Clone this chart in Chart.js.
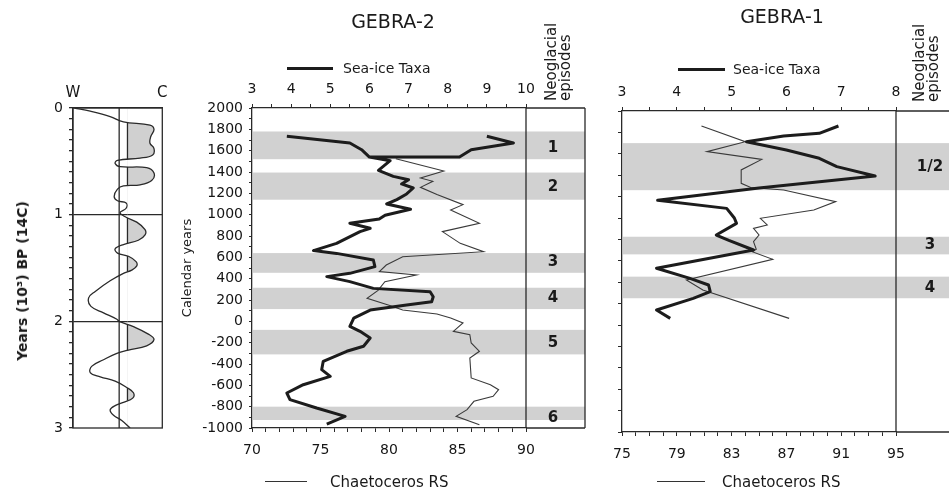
<!DOCTYPE html>
<html>
<head>
<meta charset="utf-8">
<script src="https://cdn.jsdelivr.net/npm/chart.js@4"></script>
<style>
  body { margin: 0; background: #fff; }
  #wrap { position: relative; width: 949px; height: 493px; overflow: hidden; font-family: "DejaVu Sans", sans-serif; color: #1a1a1a; }
  canvas { position: absolute; left: 0; top: 0; }
  .t { position: absolute; white-space: nowrap; z-index: 5; }
  .ln { position: absolute; z-index: 5; }
  .rot { transform-origin: 0 0; transform: rotate(-90deg); line-height: 14px; font-size: 15px; }
</style>
</head>
<body>
<div id="wrap">
  <canvas id="cLeft" width="949" height="493"></canvas>
  <canvas id="cMid" width="949" height="493"></canvas>
  <canvas id="cRight" width="949" height="493"></canvas>

  <div class="t" style="left:22px;top:281px;font-weight:bold;font-size:14px;transform:translate(-50%,-50%) rotate(-90deg);">Years (10³) BP (14C)</div>

  <div class="t" style="left:393px;top:10px;font-size:19px;transform:translateX(-50%);">GEBRA-2</div>
  <div class="ln" style="left:287px;top:67px;width:46px;height:3px;background:#1c1c1c;"></div>
  <div class="t" style="left:343px;top:60px;font-size:14px;">Sea-ice Taxa</div>
  <div class="t rot" style="left:544px;top:101px;">Neoglacial<br>episodes</div>
  <div class="ln" style="left:265px;top:481px;width:42px;height:1px;background:#333;"></div>
  <div class="t" style="left:330px;top:473px;font-size:15px;">Chaetoceros RS</div>

  <div class="t" style="left:782px;top:5px;font-size:19px;transform:translateX(-50%);">GEBRA-1</div>
  <div class="ln" style="left:678px;top:68px;width:47px;height:3px;background:#1c1c1c;"></div>
  <div class="t" style="left:733px;top:61px;font-size:14px;">Sea-ice Taxa</div>
  <div class="t rot" style="left:912px;top:102px;">Neoglacial<br>episodes</div>
  <div class="ln" style="left:657px;top:481px;width:48px;height:1px;background:#333;"></div>
  <div class="t" style="left:722px;top:473px;font-size:15px;">Chaetoceros RS</div>
</div>

<script>
// ---- left panel: W / C curve, 10^3 yr BP (14C)
const lwYears = [0,0.03,0.08,0.13,0.16,0.20,0.27,0.33,0.38,0.44,0.47,0.49,0.52,0.55,0.56,0.61,0.68,0.72,0.73,0.76,0.83,0.87,0.89,0.94,0.98,1.02,1.07,1.14,1.19,1.24,1.28,1.32,1.36,1.39,1.44,1.48,1.52,1.55,1.62,1.72,1.78,1.86,1.92,1.98,2.00,2.05,2.12,2.17,2.23,2.27,2.30,2.36,2.42,2.48,2.52,2.56,2.62,2.67,2.72,2.76,2.79,2.83,2.88,2.93,3.00];
const lwVals = [0.15,1.93,4.16,5.65,8.62,9.07,8.70,8.62,9.07,8.92,7.51,4.98,4.72,5.28,8.25,9.07,8.81,7.51,5.65,4.98,4.61,4.98,5.95,5.95,5.28,5.84,7.14,8.07,8.07,7.32,5.65,4.72,4.98,6.21,7.06,7.14,6.58,5.65,4.16,2.49,1.75,2.01,3.42,4.91,5.17,6.77,8.44,9.07,8.25,6.21,4.91,3.42,2.12,1.93,3.05,4.72,6.02,6.77,6.69,5.65,4.72,4.16,4.54,5.46,6.4];
const lwCentre = 5.17;
const lwShadeFrom = 6.1;

// ---- GEBRA-2
const g2IceYears = [1735,1672,1609,1540,1540,1609,1672,1735,null,1540,1506,1416,1359,1328,1288,1250,1194,1141,1100,1050,995,960,919,872,841,731,663,637,575,513,450,419,372,309,278,231,184,153,106,31,-47,-94,-156,-234,-281,-375,-453,-516,-594,-672,-734,-813,-891,-963];
const g2IceVals = [9.0,9.68,8.6,8.3,6.0,5.8,5.5,3.89,null,6.0,6.53,6.23,6.61,7.0,6.82,7.12,6.95,6.70,6.44,7.05,6.4,6.25,5.5,6.02,5.76,5.16,4.57,5.16,6.10,6.14,5.5,4.91,5.5,6.10,7.55,7.63,7.59,6.95,6.02,5.6,5.5,5.76,6.02,5.85,5.42,4.82,4.78,5.0,4.31,3.89,3.97,4.65,5.38,4.91];
const g2ChaetYears = [1525,1410,1344,1313,1256,1188,1094,1044,919,841,731,653,606,528,466,434,372,290,216,150,106,69,31,-16,-94,-125,-203,-281,-344,-531,-594,-641,-703,-750,-828,-891,-969];
const g2ChaetVals = [80.5,84.0,82.3,83.2,82.3,83.5,85.4,84.5,86.6,83.9,85.2,86.9,81.0,79.8,79.3,82.0,79.7,79.2,78.4,80.0,81.0,83.5,84.5,85.4,84.7,85.9,86.0,86.6,85.9,86.0,87.4,88.0,87.6,86.2,85.7,84.9,86.6];
const g2BandFrom = [1520,1140,455,115,-310,-925];
const g2BandTo = [1780,1395,640,315,-80,-800];
const g2Episodes = ['1','2','3','4','5','6'];
const g2EpisodeYears = [1625,1262,559,216,-206,-905];

// ---- GEBRA-1
const g1IceYears = [1860,1791,1766,1713,1636,1558,1480,1392,1280,1165,1090,1000,950,841,790,701,530,436,374,311,249,140,62];
const g1IceVals = [6.95,6.6,5.95,5.27,6.0,6.6,6.92,7.62,5.5,3.65,4.91,5.05,5.09,4.72,4.95,5.40,3.63,4.24,4.58,4.61,4.30,3.63,3.88];
const g1ChaetYears = [1860,1713,1620,1548,1449,1324,1285,1262,1153,1075,997,935,903,841,779,707,685,614,421,327,62];
const g1ChaetVals = [80.8,84.0,81.2,85.2,83.7,83.7,84.4,86.8,90.6,89.0,85.1,85.6,84.6,85.0,84.6,84.8,84.5,86.0,79.7,80.9,87.2];
const g1BandFrom = [1260,660,250];
const g1BandTo = [1700,825,452];
const g1Episodes = ['1/2','3','4'];
const g1EpisodeYears = [1477,748,343];

Chart.defaults.font.family = '"DejaVu Sans", sans-serif';
Chart.defaults.font.size = 14;
Chart.defaults.color = '#151515';
Chart.defaults.animation = false;
Chart.defaults.events = [];
Chart.defaults.plugins.legend.display = false;
Chart.defaults.plugins.tooltip.enabled = false;

const AX = '#2a2a2a';

function pts(ys, xs) {
  return ys.map((y, i) => ({ x: xs[i], y: y }));
}

function axisX(pos, min, max, step, labelFn, h, pad) {
  return {
    type: 'linear', position: pos, min: min, max: max,
    ticks: { stepSize: step, autoSkip: false, maxRotation: 0, minRotation: 0, padding: pad, callback: labelFn },
    grid: { drawOnChartArea: false, tickLength: 4, color: AX },
    border: { color: AX, width: 1.3 },
    afterFit(s) { s.height = h; }
  };
}

function panelPlugin(cfg) {
  return {
    id: 'panel',
    beforeDatasetsDraw(chart) {
      const { ctx, chartArea: a } = chart;
      const y = chart.scales.y;
      ctx.save();
      ctx.fillStyle = 'rgba(0,0,0,0.18)';
      cfg.bandFrom.forEach((from, i) => {
        const top = y.getPixelForValue(cfg.bandTo[i]);
        const bot = y.getPixelForValue(from);
        ctx.fillRect(a.left + 1, top, cfg.boxRight - a.left - 1, bot - top);
      });
      ctx.restore();
    },
    afterDraw(chart) {
      const { ctx, chartArea: a } = chart;
      const y = chart.scales.y;
      ctx.save();
      ctx.strokeStyle = AX;
      ctx.lineWidth = 1.3;
      ctx.beginPath();
      ctx.moveTo(a.right, a.top); ctx.lineTo(cfg.boxRight, a.top);
      ctx.moveTo(a.right, a.bottom); ctx.lineTo(cfg.boxRight, a.bottom);
      ctx.moveTo(a.right, a.top); ctx.lineTo(a.right, a.bottom);
      if (cfg.closed) { ctx.moveTo(cfg.boxRight, a.top); ctx.lineTo(cfg.boxRight, a.bottom); }
      ctx.stroke();
      ctx.fillStyle = '#1a1a1a';
      ctx.font = 'bold 15px "DejaVu Sans", sans-serif';
      ctx.textAlign = 'center';
      ctx.textBaseline = 'middle';
      cfg.labels.forEach((t, i) => ctx.fillText(t, cfg.labelX, y.getPixelForValue(cfg.labelYears[i])));
      ctx.restore();
    }
  };
}

// left panel decorations: shaded lobes right of threshold, centre line, box
const leftDecor = {
  id: 'leftDecor',
  beforeDatasetsDraw(chart) {
    const { ctx, chartArea: a } = chart;
    const meta = chart.getDatasetMeta(0);
    const line = meta.dataset;
    const p = meta.data;
    const tx = chart.scales.x.getPixelForValue(lwShadeFrom);
    ctx.save();
    ctx.beginPath();
    ctx.rect(tx, a.top, a.right - tx, a.bottom - a.top);
    ctx.clip();
    ctx.beginPath();
    if (typeof line.path === 'function') {
      line.path(ctx);
    } else {
      p.forEach((pt, i) => i ? ctx.lineTo(pt.x, pt.y) : ctx.moveTo(pt.x, pt.y));
    }
    ctx.lineTo(tx, p[p.length - 1].y);
    ctx.lineTo(tx, p[0].y);
    ctx.closePath();
    ctx.fillStyle = '#d0d0d0';
    ctx.fill();
    ctx.restore();

    ctx.save();
    ctx.strokeStyle = AX;
    ctx.lineWidth = 1.3;
    let startY = null;
    for (let i = 1; i < p.length; i++) {
      const p0 = p[i - 1], p1 = p[i];
      const in0 = p0.x > tx, in1 = p1.x > tx;
      if (in0 !== in1) {
        const cy = p0.y + (tx - p0.x) / (p1.x - p0.x) * (p1.y - p0.y);
        if (in1) { startY = cy; }
        else if (startY !== null) {
          ctx.beginPath(); ctx.moveTo(tx, startY); ctx.lineTo(tx, cy); ctx.stroke();
          startY = null;
        }
      }
    }
    ctx.restore();
  },
  afterDraw(chart) {
    const { ctx, chartArea: a } = chart;
    const cx = chart.scales.x.getPixelForValue(lwCentre);
    ctx.save();
    ctx.strokeStyle = AX;
    ctx.lineWidth = 1.3;
    ctx.strokeRect(a.left, a.top, a.right - a.left, a.bottom - a.top);
    ctx.beginPath();
    ctx.moveTo(cx, a.top); ctx.lineTo(cx, a.bottom);
    ctx.stroke();
    ctx.restore();
  }
};

// ---- left chart
new Chart(document.getElementById('cLeft'), {
  type: 'scatter',
  data: {
    datasets: [{
      data: pts(lwYears, lwVals),
      showLine: true, borderColor: '#2a2a2a', borderWidth: 1.3, pointRadius: 0, tension: 0.4
    }]
  },
  options: {
    responsive: false, devicePixelRatio: 1,
    layout: { padding: { left: 14, right: 786.7, top: 0, bottom: 65 } },
    scales: {
      x: {
        type: 'linear', position: 'top', min: 0, max: 10,
        afterBuildTicks(s) { s.ticks = [{ value: 0 }, { value: 10 }]; },
        ticks: { callback: v => (v === 0 ? 'W' : 'C'), padding: 6, maxRotation: 0, font: { size: 15 } },
        grid: { drawOnChartArea: false, drawTicks: false },
        border: { color: AX, width: 1.3 },
        afterFit(s) { s.height = 108; }
      },
      y: {
        type: 'linear', reverse: true, min: 0, max: 3,
        ticks: {
          stepSize: 0.1, autoSkip: false, padding: 6,
          callback: v => (Math.abs(v - Math.round(v)) < 1e-6 ? String(Math.round(v)) : '')
        },
        grid: {
          tickLength: 4, tickColor: AX,
          color: c => (c.tick && (c.tick.value === 1 || c.tick.value === 2) ? AX : 'rgba(0,0,0,0)'),
          lineWidth: 1.3
        },
        border: { color: AX, width: 1.3 },
        afterFit(s) { s.width = 59; }
      }
    }
  },
  plugins: [leftDecor]
});

// ---- GEBRA-2
new Chart(document.getElementById('cMid'), {
  type: 'scatter',
  data: {
    datasets: [
      { label: 'Sea-ice Taxa', data: pts(g2IceYears, g2IceVals), xAxisID: 'xTop', yAxisID: 'y',
        showLine: true, borderColor: '#1c1c1c', borderWidth: 3, pointRadius: 0, borderJoinStyle: 'round' },
      { label: 'Chaetoceros RS', data: pts(g2ChaetYears, g2ChaetVals), xAxisID: 'x', yAxisID: 'y',
        showLine: true, borderColor: '#3a3a3a', borderWidth: 1.1, pointRadius: 0 }
    ]
  },
  options: {
    responsive: false, devicePixelRatio: 1,
    layout: { padding: { left: 180, right: 423, top: 0, bottom: 0 } },
    scales: {
      x: axisX('bottom', 70, 90, 1, v => (v % 5 === 0 ? v : ''), 65, 10),
      xTop: axisX('top', 3, 10, 0.5, v => (Number.isInteger(v) ? v : ''), 108, 6),
      y: {
        type: 'linear', min: -1000, max: 2000,
        ticks: { stepSize: 100, autoSkip: false, padding: 6, callback: v => (v % 200 === 0 ? v : '') },
        grid: { drawOnChartArea: false, tickLength: 3, color: AX },
        border: { color: AX, width: 1.3 },
        title: { display: true, text: 'Calendar years', font: { size: 13 }, padding: 0, color: '#1a1a1a' },
        afterFit(s) { s.width = 72; }
      }
    }
  },
  plugins: [panelPlugin({ boxRight: 585, closed: true, bandFrom: g2BandFrom, bandTo: g2BandTo,
    labels: g2Episodes, labelYears: g2EpisodeYears, labelX: 553 })]
});

// ---- GEBRA-1
new Chart(document.getElementById('cRight'), {
  type: 'scatter',
  data: {
    datasets: [
      { label: 'Sea-ice Taxa', data: pts(g1IceYears, g1IceVals), xAxisID: 'xTop', yAxisID: 'y',
        showLine: true, borderColor: '#1c1c1c', borderWidth: 3, pointRadius: 0, borderJoinStyle: 'round' },
      { label: 'Chaetoceros RS', data: pts(g1ChaetYears, g1ChaetVals), xAxisID: 'x', yAxisID: 'y',
        showLine: true, borderColor: '#3a3a3a', borderWidth: 1.1, pointRadius: 0 }
    ]
  },
  options: {
    responsive: false, devicePixelRatio: 1,
    layout: { padding: { left: 600, right: 53, top: 0, bottom: 0 } },
    scales: {
      x: axisX('bottom', 75, 95, 1, v => ((v - 75) % 4 === 0 ? v : ''), 61, 10),
      xTop: axisX('top', 3, 8, 0.5, v => (Number.isInteger(v) ? v : ''), 111, 6),
      y: {
        type: 'linear', min: -1000, max: 2000,
        ticks: { stepSize: 200, autoSkip: false, callback: () => '' },
        grid: { drawOnChartArea: false, tickLength: 4, color: AX },
        border: { color: AX, width: 1.3 },
        afterFit(s) { s.width = 22; }
      }
    }
  },
  plugins: [panelPlugin({ boxRight: 949, closed: false, bandFrom: g1BandFrom, bandTo: g1BandTo,
    labels: g1Episodes, labelYears: g1EpisodeYears, labelX: 930 })]
});
</script>
</body>
</html>
